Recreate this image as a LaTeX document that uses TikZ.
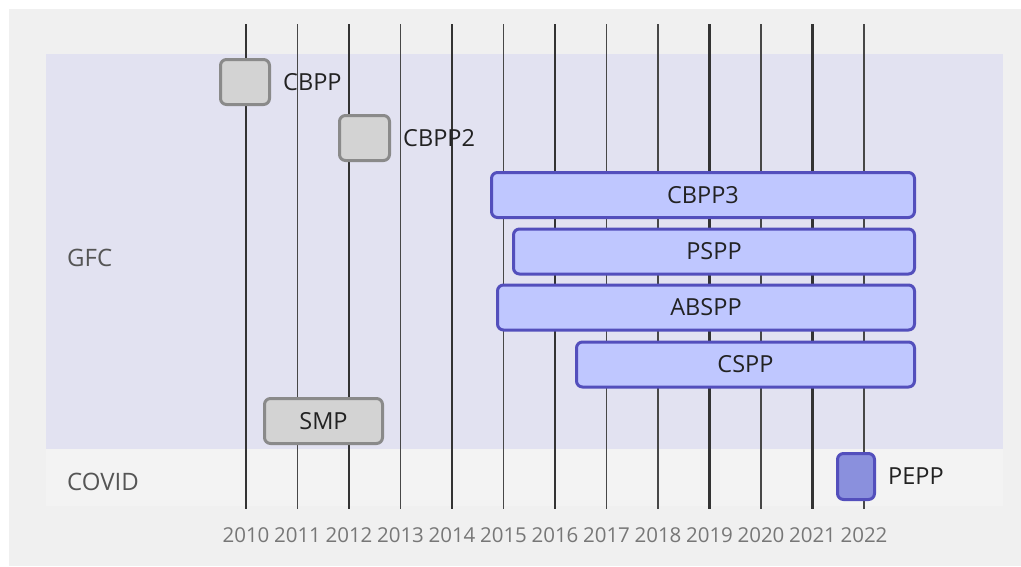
\documentclass[tikz,border=0pt]{standalone}
\usepackage{fontspec}
\setmainfont{Open Sans}
\definecolor{panelbg}{HTML}{F0F0F0}
\definecolor{gfcband}{HTML}{E2E2F1}
\definecolor{covidband}{HTML}{F3F3F3}
\definecolor{gridc}{HTML}{333333}
\definecolor{donefill}{HTML}{D3D3D3}
\definecolor{doneline}{HTML}{8A8A8A}
\definecolor{actfill}{HTML}{BFC7FF}
\definecolor{taskline}{HTML}{534FBC}
\definecolor{critfill}{HTML}{8A90DD}
\definecolor{tasktext}{HTML}{222222}
\definecolor{ticktext}{HTML}{777777}
\definecolor{secttext}{HTML}{555555}
\tikzset{
  taskbase/.style={rectangle, rounded corners=6pt, line width=3pt, inner sep=0pt,
    minimum height=45, font=\fontsize{23.5}{28}\selectfont, text=tasktext},
  donetask/.style={taskbase, draw=doneline, fill=donefill},
  acttask/.style={taskbase, draw=taskline, fill=actfill},
  crittask/.style={taskbase, draw=taskline, fill=critfill},
  sidelabel/.style={anchor=west, inner sep=0pt, font=\fontsize{23.5}{28}\selectfont, text=tasktext},
  yearlabel/.style={inner sep=0pt, font=\fontsize{20.5}{24}\selectfont, text=ticktext},
  sectlabel/.style={anchor=west, inner sep=0pt, font=\fontsize{24}{28}\selectfont, text=secttext},
  gridthick/.style={draw=gridc, line width=2.3pt},
  gridthin/.style={draw=gridc!90!white, line width=1.6pt}
}
\begin{document}
\begin{tikzpicture}[x=1pt,y=-1pt]
\useasboundingbox (0,0) rectangle (1021,566);
\fill[white] (0,0) rectangle (1021,566);
\fill[panelbg] (9,9) rectangle (1021,566);
% section bands
\fill[gfcband] (46,54) rectangle (1003,449);
\fill[covidband] (46,449) rectangle (1003,506);
% year grid lines and tick labels
\foreach \i/\yr/\w in {0/2010/gridthick,1/2011/gridthin,2/2012/gridthick,3/2013/gridthin,
  4/2014/gridthick,5/2015/gridthin,6/2016/gridthick,7/2017/gridthin,8/2018/gridthin,
  9/2019/gridthick,10/2020/gridthin,11/2021/gridthick,12/2022/gridthin}{
  \coordinate (top\yr) at ({246+51.5*\i},24);
  \coordinate (bot\yr) at ({246+51.5*\i},509);
  \draw[\w] (top\yr) -- (bot\yr);
  \node[yearlabel] (y\yr) at ({246+51.5*\i},535) {\yr};
}
% section titles
\node[sectlabel] (gfc) at (67,258) {GFC};
\node[sectlabel] (covid) at (67,482) {COVID};
% tasks
\node[donetask, minimum width=49] (cbpp) at (245,82) {};
\node[sidelabel] (cbppl) at (283,82) {CBPP};
\node[donetask, minimum width=50] (cbpp2) at (364.5,138) {};
\node[sidelabel] (cbpp2l) at (403,138) {CBPP2};
\node[acttask, minimum width=423] (cbpp3) at (703,195) {CBPP3};
\node[acttask, minimum width=401] (pspp) at (714,251.5) {PSPP};
\node[acttask, minimum width=417] (abspp) at (706,307.5) {ABSPP};
\node[acttask, minimum width=338] (cspp) at (745.5,364.5) {CSPP};
\node[donetask, minimum width=118] (smp) at (323.5,421) {SMP};
\node[crittask, minimum width=37, minimum height=46] (pepp) at (856,476.5) {};
\node[sidelabel] (peppl) at (888,476) {PEPP};
\end{tikzpicture}
\end{document}
